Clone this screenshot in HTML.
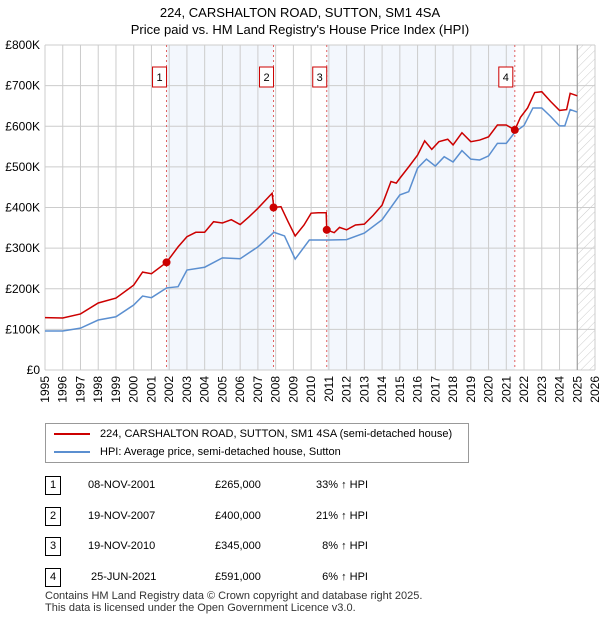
<!DOCTYPE html>
<html><head><meta charset="utf-8"><style>
body{margin:0;background:#fff;font-family:"Liberation Sans","DejaVu Sans",sans-serif;}
#wrap{position:relative;width:600px;height:620px;overflow:hidden}
.t{position:absolute;font-size:12px;color:#000;white-space:nowrap}
</style></head><body>
<div id="wrap">
<div class="t" style="left:0;width:600px;text-align:center;top:4px;font-size:13px;line-height:17px">224, CARSHALTON ROAD, SUTTON, SM1 4SA<br>Price paid vs. HM Land Registry's House Price Index (HPI)</div>
<svg id="chart" width="600" height="420" style="position:absolute;left:0;top:0"></svg>
<div style="position:absolute;left:45px;top:423px;width:422px;height:38px;border:1px solid #999;background:#fff">
 <div style="position:absolute;left:8px;top:4px;font-size:11px"><span style="display:inline-block;width:36px;height:2px;background:#cc0000;vertical-align:middle;margin-right:10px"></span>224, CARSHALTON ROAD, SUTTON, SM1 4SA (semi-detached house)</div>
 <div style="position:absolute;left:8px;top:22px;font-size:11px"><span style="display:inline-block;width:36px;height:2px;background:#5b8fd0;vertical-align:middle;margin-right:10px"></span>HPI: Average price, semi-detached house, Sutton</div>
</div>
<div id="tbl"></div>
<div class="t" style="left:45px;top:590px;font-size:11px;line-height:12px;color:#333">Contains HM Land Registry data © Crown copyright and database right 2025.<br>This data is licensed under the Open Government Licence v3.0.</div>
</div>
<script>
const hpiT=[1995,1996,1997,1998,1999,2000,2000.5,2001,2001.85,2002.5,2003,2004,2005,2006,2007,2007.9,2008.5,2009.1,2009.9,2011,2012,2013,2014,2015,2015.5,2016,2016.5,2017,2017.5,2018,2018.5,2019,2019.5,2020,2020.5,2021,2021.5,2022,2022.5,2023,2023.5,2024,2024.3,2024.6,2025];
const hpiV=[96,96,103,123,131,160,182,178,202,205,246,253,276,274,303,339,330,273,320,320,321,337,370,431,439,497,519,502,525,512,540,519,517,527,558,558,586,602,645,645,624,601,601,641,635];
const redT=[1995,1996,1997,1998,1999,2000,2000.5,2001,2001.85,2002.5,2003,2003.5,2004,2004.5,2005,2005.5,2006,2006.5,2007,2007.8,2007.9,2008.3,2008.7,2009.1,2009.6,2010,2010.4,2010.85,2010.88,2011.3,2011.6,2012,2012.5,2013,2013.5,2014,2014.5,2014.8,2015,2015.5,2016,2016.4,2016.8,2017.2,2017.7,2018,2018.5,2019,2019.5,2020,2020.5,2021,2021.48,2021.8,2022.2,2022.6,2023,2023.5,2024,2024.4,2024.6,2025];
const redV=[129,128,138,165,177,209,241,237,265,303,328,339,339,365,362,370,358,377,398,435,400,402,365,330,357,386,387,387,345,338,351,345,357,359,381,406,464,460,472,500,529,564,543,562,568,554,584,562,566,574,603,603,591,622,645,683,685,661,639,641,681,675];
const saleT=[2001.85,2007.88,2010.88,2021.48];
const saleV=[265,400,345,591];
const saleLbl=["1","2","3","4"];
const yTicks=[0,100,200,300,400,500,600,700,800];
const yLbl=["£0","£100K","£200K","£300K","£400K","£500K","£600K","£700K","£800K"];
const years=[1995,1996,1997,1998,1999,2000,2001,2002,2003,2004,2005,2006,2007,2008,2009,2010,2011,2012,2013,2014,2015,2016,2017,2018,2019,2020,2021,2022,2023,2024,2025,2026];
const rows=[["1","08-NOV-2001","£265,000","33% ↑ HPI"],["2","19-NOV-2007","£400,000","21% ↑ HPI"],["3","19-NOV-2010","£345,000","8% ↑ HPI"],["4","25-JUN-2021","£591,000","6% ↑ HPI"]];
const L=45,R=595,T=45,B=370;
const x=t=>L+(t-1995)/(2026-1995)*(R-L);
const y=v=>B-v/800*(B-T);
const s=document.getElementById('chart');const NS='http://www.w3.org/2000/svg';
function el(tag,at,name,p){const e=document.createElementNS(NS,tag);for(const k in at)e.setAttribute(k,at[k]);


(p||s).appendChild(e);return e;}
el('rect',{x:x(saleT[0]),y:T,width:x(saleT[1])-x(saleT[0]),height:B-T,fill:'#eef3fc',opacity:0.7},'shade-1-2');
el('rect',{x:x(saleT[2]),y:T,width:x(saleT[3])-x(saleT[2]),height:B-T,fill:'#eef3fc',opacity:0.7},'shade-3-4');
const d=el('defs',{},'defs');const pat=el('pattern',{id:'h',width:6,height:6,patternUnits:'userSpaceOnUse',patternTransform:'rotate(45)'},'hatch-pattern',d);
el('line',{x1:0,y1:0,x2:0,y2:6,stroke:'#ccc','stroke-width':1},'hatch-line',pat);
el('rect',{x:x(2025),y:T,width:R-x(2025),height:B-T,fill:'url(#h)'},'future-hatch');
years.forEach(t=>{el('line',{x1:x(t),y1:T,x2:x(t),y2:B,stroke:'#ccc'},'x-grid');
const tx=el('text',{x:0,y:0,'text-anchor':'end','font-size':12,fill:'#000',transform:`translate(${x(t)+4},${B+6}) rotate(-90)`},'x-tick-label');tx.textContent=t;});
yTicks.forEach((v,i)=>{el('line',{x1:L,y1:y(v),x2:R,y2:y(v),stroke:'#ccc'},'y-grid');
const tx=el('text',{x:40,y:y(v)+4,'text-anchor':'end','font-size':12,fill:'#000'},'y-tick-label');tx.textContent=yLbl[i];});
el('line',{x1:x(2025),y1:T,x2:x(2025),y2:B,stroke:'#999'},'today-line');
saleT.forEach((t,i)=>{el('line',{x1:x(t),y1:T,x2:x(t),y2:B,stroke:'#e06060','stroke-dasharray':'2,3'},'sale-marker-line');
const bx=x(t)-7-(i==3?2:0);
el('rect',{x:bx-7,y:67,width:14,height:20,fill:'#fff',stroke:'#c00'},'sale-label-box');
const tx=el('text',{x:bx,y:81,'text-anchor':'middle','font-size':11,fill:'#000'},'sale-label');tx.textContent=saleLbl[i];});
el('polyline',{points:hpiT.map((t,i)=>x(t)+','+y(hpiV[i])).join(' '),fill:'none',stroke:'#5b8fd0','stroke-width':1.5},'hpi-line');
el('polyline',{points:redT.map((t,i)=>x(t)+','+y(redV[i])).join(' '),fill:'none',stroke:'#cc0000','stroke-width':1.5},'price-line');
saleT.forEach((t,i)=>el('circle',{cx:x(t),cy:y(saleV[i]),r:4,fill:'#cc0000'},'sale-point'));
const tb=document.getElementById('tbl');
rows.forEach((r,i)=>{const top=476+i*30.7;
const h=`<div style="position:absolute;left:45px;top:${top}px;width:14px;height:17px;border:1px solid #000;font-size:11px;text-align:center;line-height:17px">${r[0]}</div>
<div class="t" style="left:${i==3?91:88}px;top:${top+3}px;font-size:11px">${r[1]}</div>
<div class="t" style="left:215px;top:${top+3}px;font-size:11px">${r[2]}</div>
<div class="t" style="right:232px;top:${top+3}px;font-size:11px">${r[3]}</div>`;
tb.insertAdjacentHTML('beforeend',h);});
</script>
</body></html>
